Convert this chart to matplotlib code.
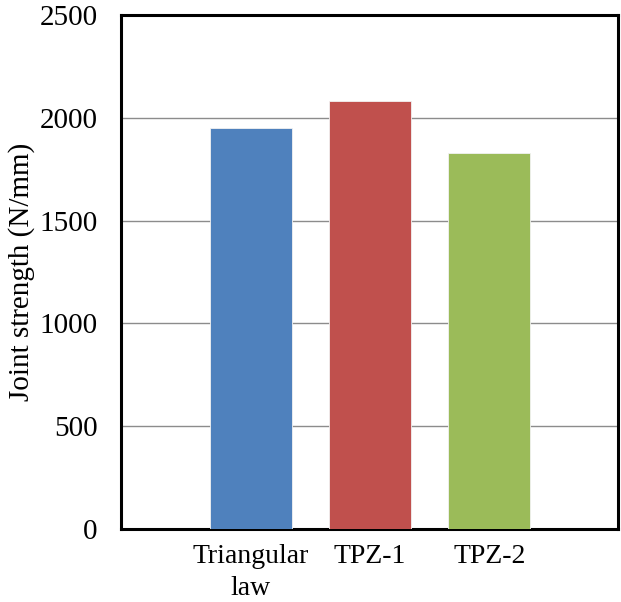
import matplotlib
matplotlib.use("Agg")
import matplotlib.pyplot as plt

categories = ["Triangular\nlaw", "TPZ-1", "TPZ-2"]
strengths = [1950, 2080, 1830]
bar_colors = ["#4F81BD", "#C0504D", "#9BBB59"]
y_ticks = [0, 500, 1000, 1500, 2000, 2500]

plt.rcParams["font.family"] = ["Liberation Serif", "DejaVu Serif"]

fig = plt.figure(figsize=(6.21, 6.02), dpi=100)
ax = fig.add_axes([121 / 621, 73 / 602, 497 / 621, 514 / 602])

x = list(range(len(categories)))
ax.bar(x, strengths, width=0.687, color=bar_colors, edgecolor="#f2f2f2",
       linewidth=0.6, zorder=3)

ax.set_xlim(-1.087, 3.079)
ax.set_ylim(0, 2500)
ax.set_yticks(y_ticks)
ax.set_xticks(x)
ax.set_xticklabels(categories, fontsize=20, linespacing=1.35)
ax.tick_params(axis="y", length=0, pad=17, labelsize=21)
ax.tick_params(axis="x", length=0, pad=11)
ax.yaxis.grid(True, color="#8c8c8c", linewidth=1.0, zorder=0)
ax.set_axisbelow(True)

for side in ["left", "right", "top", "bottom"]:
    ax.spines[side].set_linewidth(2.2)
    ax.spines[side].set_color("black")

ax.set_ylabel("Joint strength (N/mm)", fontsize=21, labelpad=3)

fig.savefig("out.png", dpi=100)
